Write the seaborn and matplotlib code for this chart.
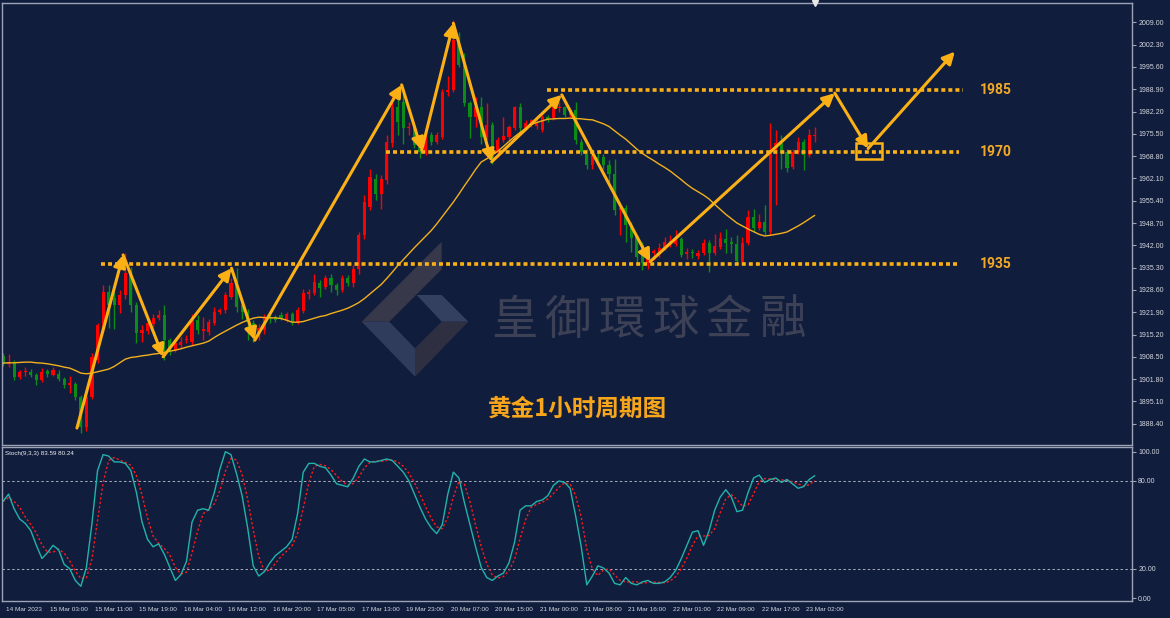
import numpy as np
import pandas as pd
import seaborn as sns
import matplotlib.pyplot as plt
import matplotlib.transforms as mtransforms
from matplotlib.patches import Polygon, Rectangle

# ---------------- data ----------------
x_labels = ["14 Mar 2023", "15 Mar 03:00", "15 Mar 11:00", "15 Mar 19:00", "16 Mar 04:00",
            "16 Mar 12:00", "16 Mar 20:00", "17 Mar 05:00", "17 Mar 13:00", "19 Mar 23:00",
            "20 Mar 07:00", "20 Mar 15:00", "21 Mar 00:00", "21 Mar 08:00", "21 Mar 16:00",
            "22 Mar 01:00", "22 Mar 09:00", "22 Mar 17:00", "23 Mar 02:00"]
price_ticks = [2009.00, 2002.30, 1995.60, 1988.90, 1982.20, 1975.50, 1968.80, 1962.10,
               1955.40, 1948.70, 1942.00, 1935.30, 1928.60, 1921.90, 1915.20, 1908.50,
               1901.80, 1895.10, 1888.40]
stoch_ticks = [100, 80, 20, 0]

opens = [
    1908.8, 1906.2, 1906.6, 1902.4, 1903.8, 1904.0, 1903.0, 1901.6, 1904.3, 1903.0,
    1903.4, 1901.8, 1900.1, 1900.3, 1896.4, 1887.5, 1896.4, 1907.5, 1917.2, 1928.0,
    1926.2, 1924.1, 1927.1, 1933.7, 1924.1, 1915.6, 1916.2, 1918.4, 1920.2, 1921.1,
    1913.5, 1910.5, 1911.9, 1913.4, 1913.0, 1919.6, 1916.4, 1916.0, 1918.8, 1922.0,
    1922.6, 1926.5, 1930.7, 1924.1, 1922.0, 1918.6, 1914.4, 1916.5, 1920.1, 1920.4,
    1921.1, 1919.6, 1921.4, 1919.0, 1922.3, 1927.5, 1927.7, 1930.7, 1929.5, 1932.2,
    1930.1, 1928.6, 1932.2, 1930.7, 1934.9, 1945.0, 1953.5, 1962.0, 1957.5, 1961.6,
    1972.7, 1983.5, 1985.0, 1977.2, 1977.2, 1971.5, 1969.7, 1975.1, 1973.0, 1974.5,
    1988.0, 1988.7, 2003.0, 1996.2, 1984.7, 1980.5, 1983.5, 1974.5, 1978.1, 1969.7,
    1973.6, 1974.5, 1977.2, 1983.5, 1977.2, 1978.5, 1977.8, 1976.6, 1980.5, 1980.2,
    1983.3, 1983.5, 1981.1, 1982.6, 1973.0, 1970.0, 1966.1, 1968.5, 1968.5, 1966.1,
    1963.4, 1952.6, 1953.2, 1948.1, 1944.5, 1942.0, 1936.7, 1939.8, 1939.4, 1941.2,
    1942.8, 1942.5, 1943.9, 1939.5, 1940.0, 1938.9, 1939.8, 1942.7, 1939.7, 1941.5,
    1943.9, 1943.0, 1942.4, 1937.0, 1942.7, 1950.5, 1947.2, 1949.0, 1946.0, 1970.6,
    1972.7, 1970.0, 1965.5, 1970.0, 1973.0, 1969.0, 1974.8]
highs = [
    1909.6, 1909.2, 1907.4, 1904.6, 1905.5, 1904.8, 1903.6, 1905.1, 1904.8, 1905.4,
    1904.5, 1902.4, 1902.6, 1900.8, 1897.0, 1897.4, 1909.6, 1918.6, 1930.0, 1930.0,
    1928.0, 1928.6, 1939.7, 1935.5, 1925.0, 1918.0, 1919.5, 1921.5, 1922.6, 1924.1,
    1914.2, 1914.0, 1914.5, 1915.0, 1921.5, 1921.0, 1920.4, 1920.0, 1923.5, 1923.3,
    1928.0, 1932.2, 1935.2, 1925.0, 1923.0, 1919.5, 1918.5, 1921.5, 1921.0, 1921.2,
    1922.0, 1922.0, 1922.0, 1923.5, 1929.0, 1929.0, 1933.5, 1931.5, 1933.0, 1933.5,
    1930.8, 1933.0, 1933.2, 1936.0, 1946.0, 1957.0, 1965.0, 1963.5, 1963.0, 1975.0,
    1987.8, 1986.5, 1988.0, 1979.0, 1978.0, 1972.5, 1976.0, 1976.0, 1976.0, 1989.0,
    1992.9, 2009.7, 2006.0, 1999.8, 1985.5, 1986.5, 1986.6, 1984.7, 1979.0, 1974.5,
    1980.5, 1978.0, 1984.0, 1984.9, 1979.5, 1980.0, 1979.5, 1981.0, 1981.0, 1984.0,
    1985.0, 1984.0, 1983.0, 1985.0, 1974.0, 1971.0, 1970.0, 1970.0, 1969.5, 1967.5,
    1968.0, 1954.0, 1954.0, 1949.0, 1945.0, 1943.0, 1940.6, 1941.0, 1942.8, 1944.5,
    1945.0, 1946.6, 1944.5, 1941.2, 1940.8, 1940.5, 1944.0, 1943.5, 1945.5, 1946.0,
    1946.8, 1944.5, 1945.0, 1944.4, 1952.6, 1953.0, 1951.5, 1954.0, 1978.6, 1976.5,
    1975.1, 1971.0, 1971.0, 1974.5, 1974.0, 1977.0, 1977.5]
lows = [
    1905.6, 1905.4, 1901.6, 1901.8, 1902.8, 1902.5, 1900.0, 1901.0, 1902.5, 1902.6,
    1901.2, 1899.2, 1897.5, 1895.6, 1885.6, 1886.2, 1895.8, 1906.5, 1916.0, 1917.1,
    1917.0, 1921.6, 1926.0, 1922.0, 1912.6, 1913.0, 1915.5, 1917.5, 1919.5, 1907.5,
    1909.0, 1909.8, 1911.0, 1912.5, 1912.0, 1915.5, 1913.5, 1915.0, 1918.0, 1921.5,
    1921.8, 1925.8, 1922.0, 1920.0, 1913.5, 1912.9, 1913.5, 1915.5, 1918.8, 1918.9,
    1919.5, 1919.0, 1918.0, 1918.5, 1921.8, 1926.0, 1927.0, 1926.5, 1929.0, 1928.0,
    1927.0, 1928.0, 1929.8, 1929.5, 1933.5, 1944.0, 1952.5, 1955.5, 1953.0, 1960.5,
    1971.5, 1975.0, 1972.5, 1975.0, 1971.2, 1968.2, 1969.0, 1972.0, 1972.5, 1974.0,
    1987.0, 1988.0, 1995.5, 1984.0, 1974.2, 1977.5, 1972.5, 1974.0, 1966.3, 1968.5,
    1973.0, 1973.5, 1976.5, 1975.6, 1976.5, 1977.5, 1977.0, 1976.0, 1979.0, 1979.6,
    1982.0, 1980.5, 1980.5, 1972.5, 1969.0, 1965.0, 1965.0, 1966.0, 1965.0, 1961.0,
    1951.0, 1945.0, 1943.0, 1940.0, 1936.7, 1934.6, 1935.0, 1937.6, 1938.5, 1940.5,
    1941.5, 1941.8, 1938.5, 1938.0, 1938.2, 1937.8, 1939.2, 1934.0, 1939.0, 1941.0,
    1939.8, 1939.8, 1936.5, 1936.5, 1942.0, 1946.0, 1946.5, 1945.0, 1945.0, 1954.0,
    1965.0, 1964.0, 1965.0, 1969.5, 1964.7, 1968.5, 1972.9]
closes = [
    1906.2, 1907.0, 1902.4, 1904.0, 1904.3, 1903.0, 1901.5, 1903.8, 1903.2, 1904.6,
    1901.9, 1900.0, 1900.5, 1896.4, 1887.4, 1896.4, 1908.4, 1918.1, 1928.0, 1924.1,
    1924.1, 1927.1, 1933.7, 1924.1, 1915.6, 1916.6, 1918.6, 1920.1, 1921.1, 1913.5,
    1910.5, 1912.6, 1913.0, 1913.8, 1919.6, 1916.5, 1916.8, 1919.0, 1922.0, 1922.6,
    1927.1, 1930.7, 1923.5, 1922.0, 1919.0, 1914.4, 1917.1, 1920.4, 1919.8, 1919.6,
    1920.2, 1921.4, 1919.0, 1922.6, 1927.7, 1927.9, 1931.0, 1929.2, 1932.2, 1930.1,
    1928.6, 1932.2, 1930.7, 1935.0, 1945.0, 1955.0, 1962.5, 1957.5, 1961.9, 1973.0,
    1983.5, 1979.0, 1977.2, 1977.5, 1972.1, 1970.0, 1975.1, 1973.0, 1975.1, 1988.0,
    1988.7, 2003.7, 1996.2, 1984.7, 1980.5, 1983.5, 1974.5, 1978.1, 1967.0, 1973.6,
    1974.8, 1977.5, 1983.5, 1977.2, 1978.7, 1979.5, 1978.7, 1980.5, 1979.6, 1983.5,
    1983.6, 1981.1, 1982.6, 1973.6, 1970.0, 1966.1, 1969.1, 1967.0, 1966.1, 1963.4,
    1952.6, 1953.2, 1948.1, 1944.2, 1938.5, 1936.7, 1940.0, 1940.2, 1941.2, 1943.0,
    1943.2, 1943.5, 1939.1, 1939.9, 1939.6, 1939.8, 1942.7, 1939.7, 1941.8, 1944.2,
    1942.6, 1942.5, 1937.3, 1942.7, 1950.5, 1947.2, 1949.0, 1946.0, 1970.6, 1972.7,
    1969.7, 1965.2, 1970.0, 1973.0, 1969.2, 1975.1, 1975.2]
moving_avg = [
    1906.6, 1906.7, 1906.7, 1906.8, 1906.9, 1906.9, 1906.7, 1906.6, 1906.4, 1906.1,
    1905.8, 1905.4, 1905.1, 1904.4, 1903.6, 1903.4, 1903.6, 1904.0, 1904.4, 1904.8,
    1905.6, 1906.7, 1907.8, 1908.3, 1908.5, 1908.8, 1909.0, 1909.3, 1909.5, 1909.8,
    1910.2, 1910.5, 1910.9, 1911.4, 1911.8, 1912.2, 1912.6, 1913.2, 1914.3, 1915.3,
    1916.2, 1917.1, 1918.0, 1918.8, 1919.5, 1920.1, 1920.4, 1920.3, 1920.2, 1920.2,
    1920.0, 1919.5, 1918.9, 1918.9, 1919.1, 1919.6, 1920.1, 1920.6, 1920.9, 1921.5,
    1922.0, 1922.5, 1923.1, 1923.9, 1924.8, 1926.0, 1927.4, 1928.8, 1930.2, 1932.0,
    1933.9, 1935.9, 1937.7, 1939.5, 1941.3, 1943.0, 1944.7, 1946.4, 1948.4, 1950.6,
    1952.8, 1955.0, 1957.4, 1959.9, 1962.3, 1964.8, 1967.0, 1968.0, 1969.1, 1970.3,
    1971.7, 1973.2, 1974.6, 1975.9, 1977.1, 1978.3, 1978.9, 1979.4, 1979.9, 1980.0,
    1980.1, 1980.1, 1980.2, 1980.1, 1980.0, 1979.8, 1979.7, 1979.1, 1978.5, 1977.7,
    1976.4, 1975.1, 1973.9, 1972.4, 1970.9, 1969.6, 1968.5, 1967.5, 1966.4, 1965.4,
    1964.3, 1963.0, 1961.7, 1960.3, 1959.1, 1958.1, 1957.1, 1955.9, 1954.3, 1952.8,
    1951.3, 1950.0, 1948.7, 1947.8, 1946.9, 1946.1, 1945.3, 1944.8, 1945.0, 1945.3,
    1945.6, 1946.0, 1946.9, 1947.8, 1948.8, 1949.9, 1951.0]
stoch_k = [
    66, 71, 61, 54, 51, 46, 36, 27, 31, 36,
    33, 23, 20, 12, 8, 21, 51, 87, 98, 97,
    93, 93, 92, 87, 72, 52, 40, 35, 37, 30,
    21, 12, 16, 25, 52, 60, 61, 60, 72, 88,
    100, 98, 85, 70, 48, 22, 15, 18, 24, 29,
    32, 35, 40, 58, 86, 92, 92, 90, 89, 84,
    78, 77, 76, 82, 90, 95, 93, 93, 94, 95,
    94, 90, 86, 80, 71, 62, 54, 48, 44, 50,
    71, 86, 82, 65, 50, 35, 21, 14, 12, 15,
    17, 24, 38, 60, 63, 63, 66, 67, 70, 77,
    80, 79, 75, 56, 35, 9, 15, 22, 20.5, 17,
    10, 9, 14, 10, 9, 11, 12, 10, 10, 11,
    14, 19, 27, 36, 45, 46, 36, 46, 60, 69,
    74, 69, 59, 60, 72, 82, 84, 79, 81, 82,
    79, 81, 78, 75, 76.14, 81, 83.59]

# support / resistance levels and the drawn swing path
level_names = ["1985", "1970", "1935"]
level_prices = [1988.6, 1970.1, 1936.3]
level_from = [97.8, 68.8, 17.6]
level_to = [172.7, 171.9, 171.9]
swing_bars = [13.3, 21.6, 28.8, 41.1, 45.3, 71.7, 75.3, 81.0, 87.9, 100.5, 116.4, 149.6, 155.6, 171.2]
swing_prices = [1887.1, 1939.1, 1908.5, 1935.1, 1913.5, 1990.2, 1970.6, 2008.7, 1967.1,
                1987.2, 1937.1, 1987.7, 1971.1, 2000.2]

# ---------------- style ----------------
BG = "#111d3d"
SPINE = "#9ba3b5"
TXT = "#d2d6de"
UP = "#ff0000"
DOWN = "#0b8c16"
ORANGE = "#fbb116"
LABEL_OR = "#f3a926"

sns.set_theme(style="dark", rc={"axes.facecolor": BG, "figure.facecolor": BG,
                                "axes.edgecolor": SPINE, "axes.grid": False})
plt.rcParams["font.family"] = ["Liberation Sans", "Noto Sans CJK SC", "DejaVu Sans"]

W, H = 1170, 618
fig = plt.figure(figsize=(W / 100, H / 100), dpi=100)


def rect(x0, y0, x1, y1):
    return [x0 / W, 1 - y1 / H, (x1 - x0) / W, (y1 - y0) / H]


ax = fig.add_axes(rect(2, 3, 1132, 445))
ax2 = fig.add_axes(rect(2, 447, 1132, 601))

df = pd.DataFrame({"bar": np.arange(len(closes)), "open": opens, "high": highs,
                   "low": lows, "close": closes, "ma": moving_avg, "k": stoch_k})
df["d"] = df["k"].rolling(3, min_periods=1).mean()

# ---------------- watermark ----------------
def fp(x, y):
    return (x / W, 1 - y / H)


logo = [
    ([(441.7, 241.7), (441.7, 269.3), (389.3, 321.7), (361.7, 321.7)], "#37384a"),
    ([(361.7, 321.7), (389.3, 321.7), (415, 348.3), (415, 376.7)], "#303c5c"),
    ([(416.7, 295), (441.7, 295), (468.3, 321.7), (441.7, 321.7)], "#33405f"),
    ([(441.7, 321.7), (468.3, 321.7), (415, 376.7), (415, 348.3)], "#2e3042"),
]
for pts, col in logo:
    ax.add_patch(Polygon([fp(*p) for p in pts], closed=True, transform=fig.transFigure,
                         facecolor=col, edgecolor="none", zorder=0.5))
for j, ch in enumerate("皇御環球金融"):
    ax.text(*fp(514 + 53.8 * j, 321), ch, transform=fig.transFigure, ha="center", va="center",
            fontsize=33.5, color="#3c4156", family=["Noto Sans CJK TC"], zorder=0.6)

# ---------------- candles ----------------
colors = np.where(df["close"] >= df["open"], UP, DOWN)
body = df["close"] - df["open"]
body = np.where(body.abs() < 0.35, 0.35, body)
ax.vlines(df["bar"], df["low"], df["high"], colors=colors, lw=1, zorder=2)
ax.bar(df["bar"], body, bottom=df["open"], width=0.56, color=colors, linewidth=0, zorder=2.1)
sns.lineplot(x=df["bar"], y=df["ma"], ax=ax, color="#f2b01c", linewidth=1.0, zorder=3)

# levels
for name, p, a, b in zip(level_names, level_prices, level_from, level_to):
    ax.hlines(p, a, b, color=ORANGE, lw=2.6, linestyles=(0, (1.1, 0.85)), zorder=4)
    ax.text(175.6, p, name, color=LABEL_OR, fontsize=10, fontweight="bold",
            family=["Roboto"], va="center", ha="left", zorder=6)

# swing arrows
for k in range(len(swing_bars) - 1):
    ax.annotate("", xy=(swing_bars[k + 1], swing_prices[k + 1]),
                xytext=(swing_bars[k], swing_prices[k]),
                arrowprops=dict(arrowstyle="-|>,head_length=0.6,head_width=0.3",
                                color=ORANGE, lw=2.2, shrinkA=0, shrinkB=0),
                zorder=5)
ax.add_patch(Rectangle((153.4, 1967.9), 4.7, 4.8, fill=False, ec=ORANGE, lw=1.8, zorder=5))

ax.text(103.4, 1893.0, "黄金1小时周期图", color="#f7a51b", fontsize=17, fontweight="bold",
        family=["Noto Sans CJK SC"], ha="center", va="center", zorder=6)

xlim = (-0.18, 203.06)
ax.set_xlim(*xlim)
ax.set_ylim(1882.0, 2014.8)
ax.set_xlabel("")
ax.set_ylabel("")
ax.yaxis.tick_right()
ax.set_yticks(price_ticks)
ax.set_yticklabels([f"{v:.2f}" for v in price_ticks])
ax.tick_params(axis="y", length=3, width=0.8, pad=1.5, labelsize=5, colors=SPINE, labelcolor=TXT)
ax.tick_params(axis="x", bottom=False, labelbottom=False)
ax.plot([df["bar"].iloc[-1]], [2014.8], marker="v", ms=4, color="#e8e8e8", clip_on=False, zorder=7)

# ---------------- stochastic ----------------
ax2.axhline(80, color="#aab0c0", lw=0.7, ls=(0, (2.5, 2.5)), zorder=1)
ax2.axhline(20, color="#aab0c0", lw=0.7, ls=(0, (2.5, 2.5)), zorder=1)
sns.lineplot(x=df["bar"], y=df["k"], ax=ax2, color="#22b3ab", linewidth=1.0, zorder=3)
sns.lineplot(x=df["bar"], y=df["d"], ax=ax2, color="#ff1a1a", linewidth=1.0,
             linestyle=(0, (1.6, 1.6)), zorder=2)
ax2.set_xlim(*xlim)
ax2.set_ylim(-2.05, 103.2)
ax2.set_xlabel("")
ax2.set_ylabel("")
ax2.yaxis.tick_right()
ax2.set_yticks(stoch_ticks)
ax2.set_yticklabels([f"{v:.2f}" for v in stoch_ticks])
ax2.tick_params(axis="y", length=3, width=0.8, pad=1.5, labelsize=5, colors=SPINE, labelcolor=TXT)
ax2.set_xticks(range(0, 8 * len(x_labels), 8))
ax2.set_xticklabels(x_labels, ha="left")
ax2.tick_params(axis="x", length=3, width=0.8, pad=1.5, labelsize=4.6, colors=SPINE, labelcolor=TXT)
shift = mtransforms.ScaledTranslation(2 / 72, 0, fig.dpi_scale_trans)
for lab in ax2.get_xticklabels():
    lab.set_transform(lab.get_transform() + shift)
ax2.text(0.003, 0.975, f"Stoch(9,3,3) {stoch_k[-1]:.2f} {df['d'].iloc[-1]:.2f}",
         transform=ax2.transAxes, color="#f0f0f0", fontsize=4.5, ha="left", va="top")

for a in (ax, ax2):
    for s in a.spines.values():
        s.set_color(SPINE)
        s.set_linewidth(1.0)

fig.savefig("out.png", dpi=100, facecolor=BG)
